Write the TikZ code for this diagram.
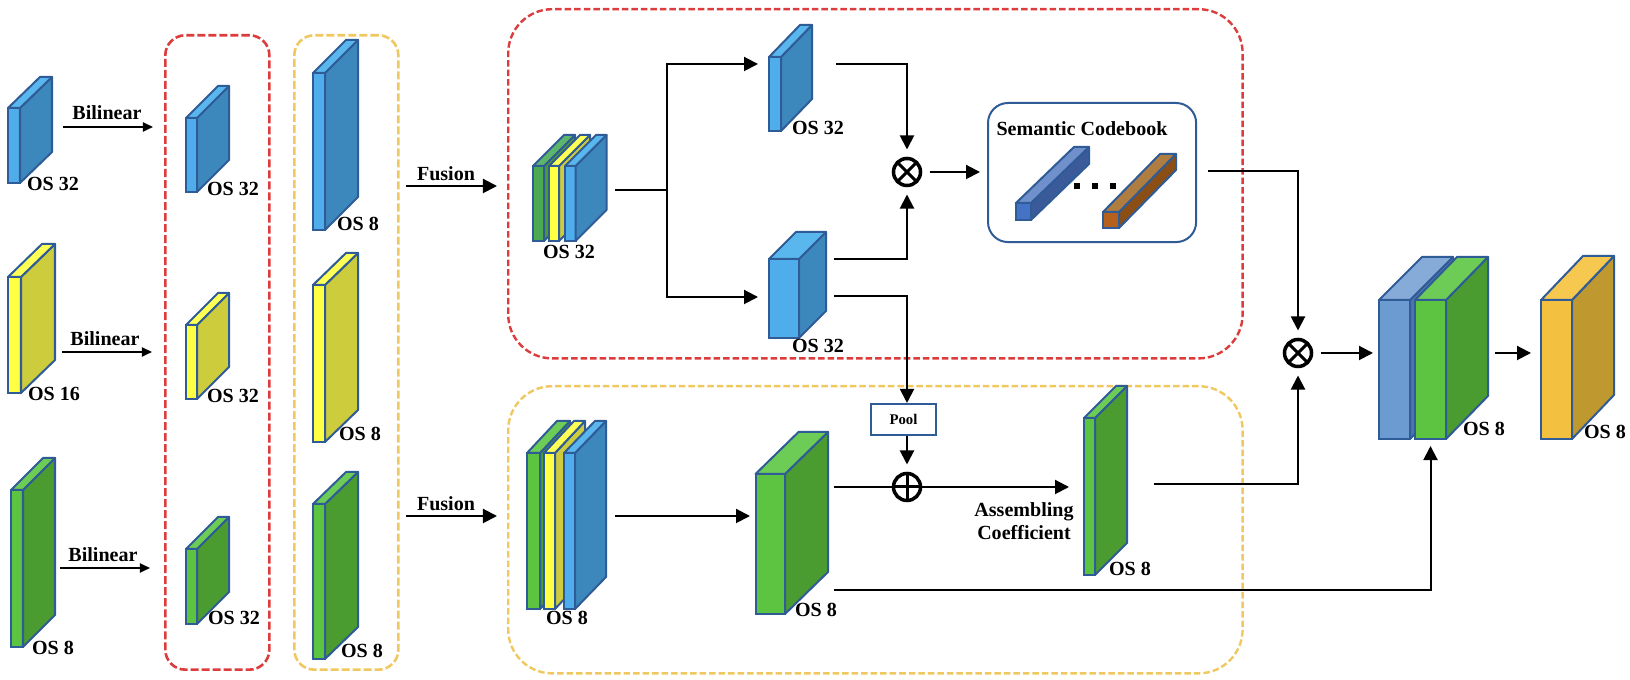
\documentclass[tikz,border=0pt]{standalone}
\usepackage{fontspec}
\setmainfont{Liberation Serif}
\usetikzlibrary{arrows.meta}

% Define colors
\definecolor{bluefront}{HTML}{4EADEA}
\definecolor{blueside}{HTML}{3C88BC}
\definecolor{bluetop}{HTML}{5AB7EE}
\definecolor{yellowfront}{HTML}{FFFF44}
\definecolor{yellowside}{HTML}{CCCC3C}
\definecolor{yellowtop}{HTML}{FFFF55}
\definecolor{greenfront}{HTML}{5CC440}
\definecolor{greenside}{HTML}{4A9C30}
\definecolor{greentop}{HTML}{6CCC55}
\definecolor{darkgreenfront}{HTML}{4DAA50}
\definecolor{darkgreenside}{HTML}{4A9C30}
\definecolor{darkgreentop}{HTML}{5DB56A}
\definecolor{steelfront}{HTML}{6C9BD2}
\definecolor{steelside}{HTML}{4F74AE}
\definecolor{steeltop}{HTML}{86ABD8}
\definecolor{goldfront}{HTML}{F4C040}
\definecolor{goldside}{HTML}{C09830}
\definecolor{goldtop}{HTML}{F6C850}
\definecolor{barbluefront}{HTML}{4472C4}
\definecolor{barblueside}{HTML}{3A5A9A}
\definecolor{barbluetop}{HTML}{7090CC}
\definecolor{barbrownfront}{HTML}{B5601C}
\definecolor{barbrownside}{HTML}{8B4F15}
\definecolor{barbrowntop}{HTML}{B07D40}
\definecolor{edgeblue}{HTML}{2F5B96}
\definecolor{dashred}{HTML}{DC3C3C}
\definecolor{dashgold}{HTML}{F0C860}

\tikzset{
    frontface/.style={draw=edgeblue, line width=0.02cm, inner sep=0pt, outer sep=0pt, anchor=north west},
    faceline/.style={draw=edgeblue, line width=0.02cm, line join=round},
    oslabel/.style={font=\bfseries\fontsize{5.7}{6.5}\selectfont, inner sep=0pt, align=center},
    flow/.style={line width=0.02cm, -{Triangle[length=0.14cm,width=0.14cm]}},
    smallflow/.style={line width=0.018cm, -{Triangle[length=0.1cm,width=0.09cm]}},
    plainline/.style={line width=0.02cm},
    columnbox/.style={rounded corners=0.2cm, line width=0.026cm, dash pattern=on 0.08cm off 0.03cm, inner sep=0pt, anchor=north west},
    regionbox/.style={rounded corners=0.44cm, line width=0.024cm, dash pattern=on 0.065cm off 0.03cm, inner sep=0pt, anchor=north west},
    opnode/.style={circle, draw, line width=0.035cm, minimum size=0.27cm, inner sep=0pt, outer sep=0.09cm},
    mulnode/.style={opnode, path picture={
        \draw[line width=0.03cm] (path picture bounding box.north west) -- (path picture bounding box.south east);
        \draw[line width=0.03cm] (path picture bounding box.north east) -- (path picture bounding box.south west);}},
    addnode/.style={opnode, path picture={
        \draw[line width=0.03cm] (path picture bounding box.north) -- (path picture bounding box.south);
        \draw[line width=0.03cm] (path picture bounding box.west) -- (path picture bounding box.east);}},
}

% name, x, y, width, height, depth x, depth y, color set
\newcommand{\cuboid}[8]{
    \node[frontface, fill=#8front, minimum width=#4*0.01cm, minimum height=#5*0.01cm] (#1) at (#2,#3) {};
    \draw[faceline, fill=#8side] (#1.north east) -- ++(#6,-#7) -- ++(0,#5) -- (#1.south east) -- cycle;
    \draw[faceline, fill=#8top] (#1.north west) -- ++(#6,-#7) -- ++(#4,0) -- (#1.north east) -- cycle;
}

\begin{document}
\begin{tikzpicture}[x=0.01cm, y=-0.01cm]
\useasboundingbox (0,0) rectangle (1630,680);

% Dashed frames
\node[columnbox, draw=dashred, minimum width=1.04cm, minimum height=6.34cm] (redcolumn) at (164,34) {};
\node[columnbox, draw=dashgold, minimum width=1.04cm, minimum height=6.34cm] (goldcolumn) at (293,34) {};
\node[regionbox, draw=dashred, minimum width=7.34cm, minimum height=3.49cm] (redregion) at (507,8) {};
\node[regionbox, draw=dashgold, minimum width=7.34cm, minimum height=2.87cm] (goldregion) at (507,385) {};

% Draw the blocks
\foreach \nm/\x/\y/\w/\h/\dx/\dy/\cc in {
    inA/8/108/12/75/32/31/blue, inB/8/277/13/116/34/33/yellow, inC/11/490/12/157/32/32/green,
    midA/186/118/11/74/32/32/blue, midB/186/325/11/74/32/32/yellow, midC/186/549/11/75/32/32/green,
    upA/313/73/12/157/33/33/blue, upB/313/285/12/157/33/32/yellow, upC/313/504/12/155/33/32/green,
    topstackA/533/166/11/75/31/31/darkgreen, topstackB/549/166/10/75/31/31/yellow, topstackC/565/166/10.5/75/31/31/blue,
    upperblock/769/57/12/74/31/32/blue, lowerblock/769/259/30/79/27/27/blue,
    lowstackA/527/453/13/156/30/32/green, lowstackB/544/453/11/156/30/32/yellow, lowstackC/564/453/11/156/31/32/blue,
    biggreen/755.5/474/29.5/140/43/42/green, thingreen/1084/418/11/157/32/32/green,
    pairA/1379/300/31/139/43/43/steel, pairB/1415/300/31/139/42/43/green, goldblock/1541/300/31/139/42/44/gold} {
    \cuboid{\nm}{\x}{\y}{\w}{\h}{\dx}{\dy}{\cc}
}

% OS labels
\foreach \nm/\x/\y/\txt in {
    osinA/53/184/OS 32, osinB/54/394/OS 16, osinC/53/648/OS 8,
    osmidA/233/189/OS 32, osmidB/233/396/OS 32, osmidC/234/618/OS 32,
    osupA/358/224/OS 8, osupB/360/434/OS 8, osupC/362/651/OS 8,
    ostopstack/569/252/OS 32, osupper/818/128/OS 32, oslower/818/346/OS 32,
    oslowstack/567/618/OS 8, osbiggreen/816/610/OS 8, osthin/1130/569/OS 8,
    ospair/1484/429/OS 8, osgold/1605/432/OS 8} {
    \node[oslabel] (\nm) at (\x,\y) {\txt};
}

% Bilinear and Fusion arrows
\foreach \nm/\x/\y/\xa/\xb/\ya in {bilinA/107/113/63/153/127, bilinB/105/339/62/152/352, bilinC/103/555/60/150/568} {
    \node[oslabel] (\nm) at (\x,\y) {Bilinear};
    \coordinate (\nm s) at (\xa,\ya);
    \coordinate (\nm t) at (\xb,\ya);
    \draw[smallflow] (\nm s) -- (\nm t);
}
\foreach \nm/\y/\ya in {fusionA/174/186, fusionB/504/516} {
    \node[oslabel] (\nm) at (446,\y) {Fusion};
    \coordinate (\nm s) at (406,\ya);
    \coordinate (\nm t) at (497,\ya);
    \draw[flow] (\nm s) -- (\nm t);
}

% Semantic codebook
\node[draw=edgeblue, line width=0.02cm, rounded corners=0.2cm, inner sep=0pt, anchor=north west,
    minimum width=2.08cm, minimum height=1.39cm] (codebook) at (987,102) {};
\node[oslabel] (codebooktitle) at (1082,129) {Semantic Codebook};
\cuboid{barA}{1016}{203}{15}{17}{58}{56}{barblue}
\cuboid{barB}{1103}{212}{16}{16}{57}{58}{barbrown}
\foreach \x in {1077,1095,1113} {
    \node[fill=black, inner sep=0pt, minimum size=0.055cm] (dot\x) at (\x,186) {};
}

% Operators and pool
\node[mulnode] (mulA) at (907,172) {};
\node[mulnode] (mulB) at (1298,353) {};
\node[addnode] (add) at (907,487) {};
\node[draw=edgeblue, line width=0.02cm, inner sep=0pt, minimum width=0.65cm, minimum height=0.31cm,
    font=\bfseries\fontsize{4.2}{5}\selectfont] (pool) at (903.5,419.5) {Pool};
\node[oslabel] (assembling) at (1024,521) {Assembling\\Coefficient};

% Free ends of the connectors
\coordinate (trunkout) at (615,190);
\coordinate (trunkjoint) at (667,190);
\coordinate (upperin) at (758,64);
\coordinate (lowerin) at (758,297);
\coordinate (upperout) at (836,64);
\coordinate (lowerout) at (834,259);
\coordinate (lowerpool) at (834,296);
\coordinate (codebookin) at (980,172);
\coordinate (codebookout) at (1208,171);
\coordinate (stackout) at (615,516);
\coordinate (biggreenin) at (750,516);
\coordinate (biggreenout) at (834,487);
\coordinate (thinin) at (1069,487);
\coordinate (thinout) at (1154,484);
\coordinate (skipout) at (834,590);
\coordinate (pairin) at (1373,353);
\coordinate (pairout) at (1495,353);
\coordinate (goldin) at (1531,353);

% Draw the connectors
\draw[plainline] (trunkout) -- (trunkjoint);
\draw[flow] (trunkjoint) |- (upperin);
\draw[flow] (trunkjoint) |- (lowerin);
\draw[flow] (upperout) -| (mulA.north);
\draw[flow] (lowerout) -| (mulA.south);
\draw[flow] (mulA.east) -- (codebookin);
\draw[flow] (lowerpool) -| (add |- pool.north);
\draw[flow] (add |- pool.south) -- (add.north);
\draw[flow] (biggreenout) -- (add.center) -- (thinin);
\draw[flow] (stackout) -- (biggreenin);
\draw[flow] (codebookout) -| (mulB.north);
\draw[flow] (thinout) -| (mulB.south);
\draw[flow, shorten >=0.07cm] (skipout) -| (pairB.south);
\draw[flow] (mulB.east) -- (pairin);
\draw[flow] (pairout) -- (goldin);

\end{tikzpicture}
\end{document}
